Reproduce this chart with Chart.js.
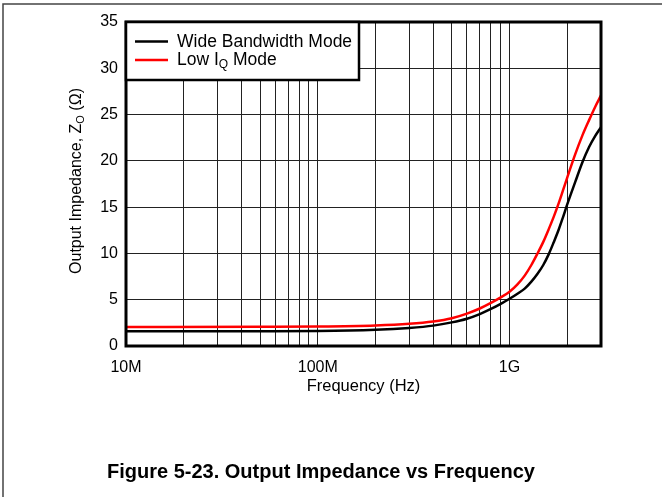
<!DOCTYPE html>
<html>
<head>
<meta charset="utf-8">
<script src="https://cdn.jsdelivr.net/npm/chart.js@4.4.0/dist/chart.umd.min.js"></script>
<style>
  html, body { margin: 0; padding: 0; background: #fff; }
  #wrap { width: 662px; height: 497px; position: relative; }
</style>
</head>
<body>
<div id="wrap"><canvas id="chart" width="662" height="497"></canvas></div>
<script>
// frequencias (Hz) e impedancias
const wideFreq = [1e7, 5e7, 1e8, 2e8, 3e8, 4e8, 5e8, 6e8, 7e8, 8e8, 9e8,
                  1e9, 1.1e9, 1.2e9, 1.3e9, 1.4e9, 1.5e9, 1.6e9, 1.7e9, 1.8e9, 1.9e9,
                  2e9, 2.2e9, 2.4e9, 2.6e9, 2.8e9, 3e9];
const wideZ    = [1.6, 1.6, 1.62, 1.75, 1.95, 2.2, 2.55, 2.95, 3.45, 4.0, 4.55,
                  5.1, 5.65, 6.2, 6.95, 7.8, 8.75, 9.9, 11.2, 12.5, 13.9,
                  15.3, 17.7, 19.85, 21.5, 22.7, 23.65];

const lowFreq = [1e7, 5e7, 1e8, 2e8, 3e8, 4e8, 5e8, 6e8, 7e8, 8e8, 9e8,
                 1e9, 1.1e9, 1.2e9, 1.3e9, 1.4e9, 1.5e9, 1.6e9, 1.7e9, 1.8e9, 1.9e9,
                 2e9, 2.2e9, 2.4e9, 2.6e9, 2.8e9, 3e9];
const lowZ    = [2.05, 2.07, 2.1, 2.22, 2.4, 2.65, 3.0, 3.5, 4.05, 4.65, 5.25,
                 5.85, 6.65, 7.6, 8.75, 10.0, 11.25, 12.6, 13.95, 15.35, 16.8,
                 18.2, 20.7, 22.75, 24.4, 25.85, 27.07];

const xGridValues = [1e7, 2e7, 3e7, 4e7, 5e7, 6e7, 7e7, 8e7, 9e7,
                     1e8, 2e8, 3e8, 4e8, 5e8, 6e8, 7e8, 8e8, 9e8,
                     1e9, 2e9, 3e9];
const xTickLabels = { 1e7: '10M', 1e8: '100M', 1e9: '1G' };
const yTicks = [0, 5, 10, 15, 20, 25, 30, 35];

const toPoints = (xs, ys) => xs.map((x, i) => ({ x: x, y: ys[i] }));

const FONT = '"Liberation Sans", Arial, sans-serif';

/*
* Desenha moldura da figura, borda do grafico, legenda,
* titulo do eixo Y (com subscrito) e legenda da figura.
*/
const decorPlugin = {
  id: 'decor',
  afterDraw(chart) {
    const c = chart.ctx;
    const a = chart.chartArea;
    c.save();

    // moldura da pagina
    c.strokeStyle = '#444';
    c.lineWidth = 1.5;
    c.beginPath();
    c.moveTo(3, 497);
    c.lineTo(3, 4);
    c.lineTo(662, 4);
    c.stroke();

    // borda do grafico
    c.strokeStyle = '#000';
    c.lineWidth = 3;
    c.strokeRect(a.left, a.top, a.right - a.left, a.bottom - a.top);

    // legenda
    const lx = a.left, ly = a.top, lw = 233, lh = 58;
    c.fillStyle = '#fff';
    c.fillRect(lx, ly, lw, lh);
    c.lineWidth = 2.5;
    c.strokeRect(lx, ly, lw, lh);

    c.lineWidth = 2.5;
    c.strokeStyle = '#000';
    c.beginPath(); c.moveTo(135, 41.5); c.lineTo(168, 41.5); c.stroke();
    c.strokeStyle = '#ff0000';
    c.beginPath(); c.moveTo(135, 60); c.lineTo(168, 60); c.stroke();

    c.fillStyle = '#000';
    c.font = '17.5px ' + FONT;
    c.textBaseline = 'middle';
    c.textAlign = 'left';
    c.fillText('Wide Bandwidth Mode', 177, 42);
    let tx = 177;
    c.fillText('Low I', tx, 60.5);
    tx += c.measureText('Low I').width;
    c.font = '12px ' + FONT;
    c.fillText('Q', tx, 65);
    tx += c.measureText('Q').width;
    c.font = '17.5px ' + FONT;
    c.fillText(' Mode', tx, 60.5);

    // titulo eixo Y
    c.translate(77, (a.top + a.bottom) / 2 - 3);
    c.rotate(-Math.PI / 2);
    const p1 = 'Output Impedance, Z', sub = 'O', p2 = ' (\u03A9)';
    c.font = '16px ' + FONT;
    const w1 = c.measureText(p1).width, w3 = c.measureText(p2).width;
    c.font = '11px ' + FONT;
    const w2 = c.measureText(sub).width;
    let sx = -(w1 + w2 + w3) / 2;
    c.font = '16px ' + FONT;
    c.fillText(p1, sx, 0);
    c.font = '11px ' + FONT;
    c.fillText(sub, sx + w1, 4);
    c.font = '16px ' + FONT;
    c.fillText(p2, sx + w1 + w2, 0);
    c.restore();

    // legenda da figura
    c.save();
    c.fillStyle = '#000';
    c.font = 'bold 20px ' + FONT;
    c.textBaseline = 'middle';
    c.textAlign = 'left';
    c.fillText('Figure 5-23. Output Impedance vs Frequency', 107, 472);
    c.restore();
  }
};

const ctx = document.getElementById('chart');

new Chart(ctx, {
  type: 'line',
  data: {
    datasets: [
      {
        label: 'Low IQ Mode',
        data: toPoints(lowFreq, lowZ),
        borderColor: '#ff0000',
        borderWidth: 2.5,
        pointRadius: 0,
        cubicInterpolationMode: 'monotone'
      },
      {
        label: 'Wide Bandwidth Mode',
        data: toPoints(wideFreq, wideZ),
        borderColor: '#000000',
        borderWidth: 2.5,
        pointRadius: 0,
        cubicInterpolationMode: 'monotone'
      }
    ]
  },
  options: {
    responsive: false,
    animation: false,
    layout: { padding: { left: 86, right: 61, top: 22, bottom: 97 } },
    plugins: {
      legend: { display: false },
      tooltip: { enabled: false }
    },
    scales: {
      x: {
        type: 'logarithmic',
        min: 1e7,
        max: 3e9,
        afterBuildTicks: scale => {
          scale.ticks = xGridValues.map(v => ({ value: v }));
        },
        afterFit: scale => { scale.height = 54; },
        ticks: {
          autoSkip: false,
          maxRotation: 0,
          padding: 12,
          color: '#000',
          font: { family: FONT, size: 16 },
          callback: v => xTickLabels[v] || ''
        },
        grid: { color: '#222', lineWidth: 1, drawTicks: false },
        border: { display: false },
        title: {
          display: true,
          text: 'Frequency (Hz)',
          color: '#000',
          font: { family: FONT, size: 16.5 },
          padding: { top: 0, bottom: 4 },
          align: 'center'
        }
      },
      y: {
        min: 0,
        max: 35,
        afterBuildTicks: scale => {
          scale.ticks = yTicks.map(v => ({ value: v }));
        },
        afterFit: scale => { scale.width = 40; },
        ticks: {
          padding: 8,
          color: '#000',
          font: { family: FONT, size: 16 }
        },
        grid: { color: '#222', lineWidth: 1, drawTicks: false },
        border: { display: false }
      }
    }
  },
  plugins: [decorPlugin]
});
</script>
</body>
</html>
